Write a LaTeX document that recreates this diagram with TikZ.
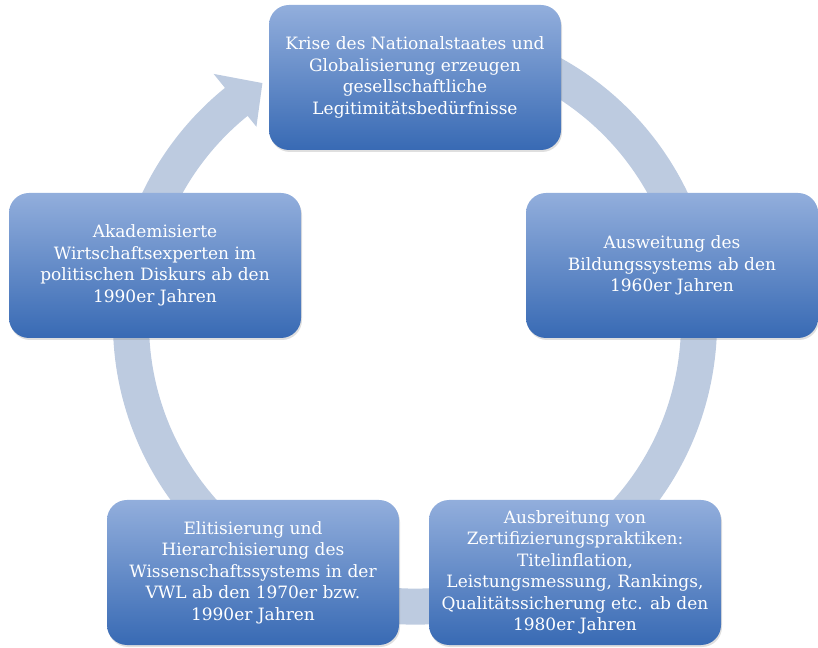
\documentclass[tikz,border=0pt]{standalone}
\usepackage{fontspec}
\setmainfont{DejaVu Serif}
\usetikzlibrary{shadows}
\definecolor{ringc}{RGB}{189,203,224}
\definecolor{boxtop}{RGB}{146,174,220}
\definecolor{boxbot}{RGB}{56,106,180}
\tikzset{
  stage/.style={rounded corners=20pt, minimum width=292pt, minimum height=145pt,
    top color=boxtop, bottom color=boxbot, text=white, align=center,
    font=\fontsize{17}{21.5}\selectfont, inner sep=0pt,
    drop shadow={opacity=0.25, shadow xshift=1pt, shadow yshift=-2pt}},
  ring/.style={fill=ringc, draw=none}
}
\begin{document}
\begin{tikzpicture}[x=1pt,y=1pt]
\useasboundingbox (0,0) rectangle (818,647);
\coordinate (C) at (415,324.4);
\begin{scope}[shift={(C)}]
  \fill[ring] (80:302) arc[start angle=80, end angle=-231, radius=302]
    -- (129:320) -- (122.5:284) -- (129:252) -- (129:266)
    arc[start angle=129, end angle=440, radius=266] -- cycle;
\end{scope}
\node[stage] (top) at (415,569.5) {Krise des Nationalstaates und\\Globalisierung erzeugen\\gesellschaftliche\\Legitimitätsbedürfnisse};
\node[stage] (right) at (672,381.5) {Ausweitung des\\Bildungssystems ab den\\1960er Jahren};
\node[stage] (br) at (575,74.5) {Ausbreitung von\\Zertifizierungspraktiken:\\Titelinflation,\\Leistungsmessung, Rankings,\\Qualitätssicherung etc. ab den\\1980er Jahren};
\node[stage] (bl) at (253,74.5) {Elitisierung und\\Hierarchisierung des\\Wissenschaftssystems in der\\VWL ab den 1970er bzw.\\1990er Jahren};
\node[stage] (left) at (155,381.5) {Akademisierte\\Wirtschaftsexperten im\\politischen Diskurs ab den\\1990er Jahren};
\end{tikzpicture}
\end{document}
